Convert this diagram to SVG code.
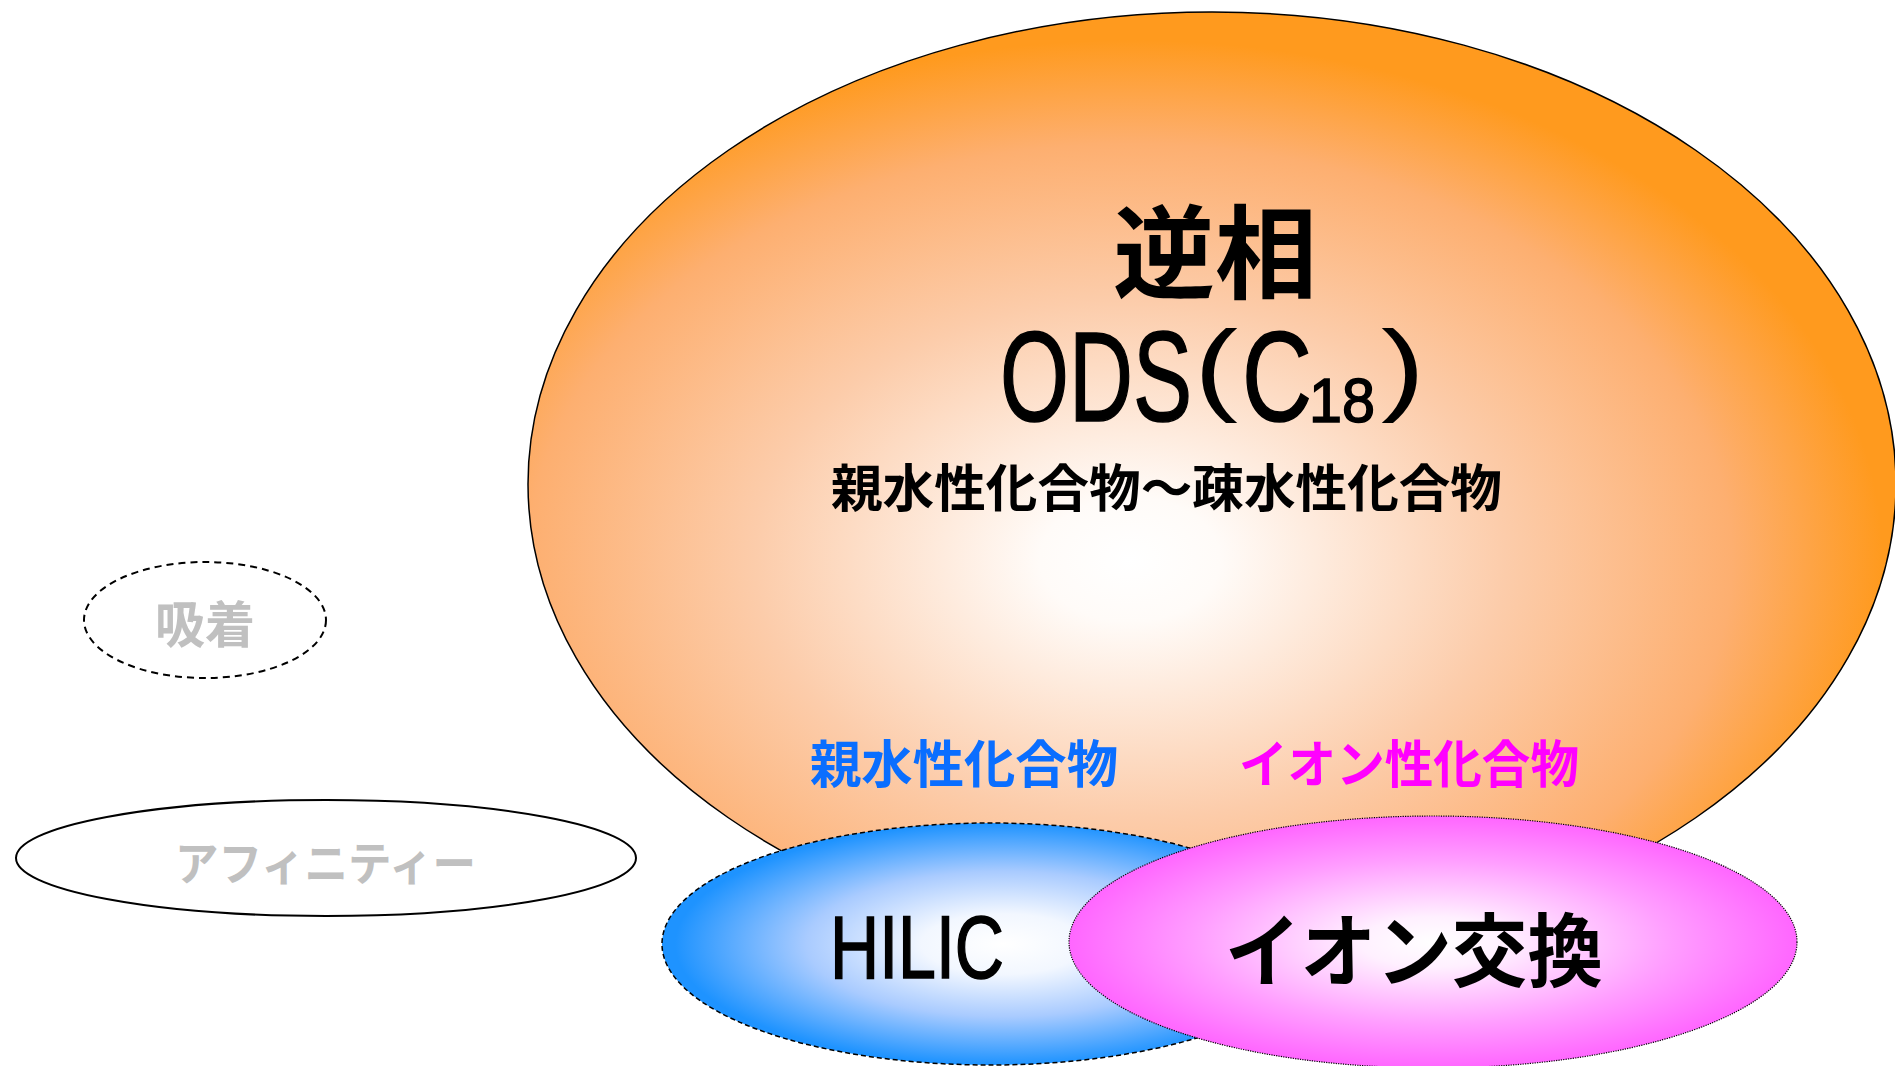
<svg xmlns="http://www.w3.org/2000/svg" width="1895" height="1066" viewBox="0 0 1895 1066">
<defs>
<radialGradient id="gOrange" cx="0.44" cy="0.58" r="0.55">
<stop offset="0" stop-color="#FFFFFF"/>
<stop offset="0.12" stop-color="#FFFBF8"/>
<stop offset="0.5" stop-color="#FCCCAA"/>
<stop offset="0.8" stop-color="#FDAF70"/>
<stop offset="1" stop-color="#FF9A1E"/>
</radialGradient>
<radialGradient id="gBlue" cx="0.52" cy="0.5" r="0.5">
<stop offset="0" stop-color="#FFFFFF"/>
<stop offset="0.25" stop-color="#F2F7FF"/>
<stop offset="0.6" stop-color="#A9CBFF"/>
<stop offset="1" stop-color="#1E93FF"/>
</radialGradient>
<radialGradient id="gPink" cx="0.5" cy="0.5" r="0.5">
<stop offset="0" stop-color="#FFFFFF"/>
<stop offset="0.2" stop-color="#FFF0FF"/>
<stop offset="0.65" stop-color="#FF9EFF"/>
<stop offset="1" stop-color="#FF66FF"/>
</radialGradient>
</defs>
<style>
.jp{font-family:"Noto Sans CJK JP","Noto Sans CJK SC",sans-serif;font-weight:bold;}
.lat{font-family:"Liberation Sans","DejaVu Sans",sans-serif;font-weight:normal;fill:#000;stroke:#000;stroke-width:1.6;}
.par{font-family:"Liberation Sans","DejaVu Sans",sans-serif;font-weight:normal;fill:#000;}
.gray{fill:#C0C0C0;}
.blk{fill:#000000;}
</style>
<g id="connectors"></g>
<g id="node-reverse">
<ellipse cx="1212" cy="484" rx="684" ry="472" fill="url(#gOrange)" stroke="#000" stroke-width="1.5"/>
<text class="jp blk" x="1215" y="291" font-size="102" text-anchor="middle">逆相</text>
<text class="lat" x="1000" y="421" font-size="128" textLength="192" lengthAdjust="spacingAndGlyphs">ODS</text>
<text class="par" x="1194" y="402" font-size="102" textLength="44" lengthAdjust="spacingAndGlyphs">(</text>
<text class="lat" x="1242" y="421" font-size="128" textLength="70" lengthAdjust="spacingAndGlyphs">C</text>
<text class="lat" x="1309" y="422" font-size="63" textLength="66" lengthAdjust="spacingAndGlyphs">18</text>
<text class="par" x="1381" y="402" font-size="102" textLength="44" lengthAdjust="spacingAndGlyphs">)</text>
<text class="jp blk" x="831" y="507" font-size="51" textLength="671" lengthAdjust="spacingAndGlyphs">親水性化合物～疎水性化合物</text>
<text class="jp" x="810" y="783" font-size="51" fill="#0A6EFF" textLength="308" lengthAdjust="spacingAndGlyphs">親水性化合物</text>
<text class="jp" x="1239" y="783" font-size="51" fill="#FF00FF" textLength="340" lengthAdjust="spacingAndGlyphs">イオン性化合物</text>
</g>
<g id="node-adsorption">
<ellipse cx="205" cy="620" rx="121" ry="58" fill="none" stroke="#000" stroke-width="2" stroke-dasharray="7,5"/>
<text class="jp gray" x="205" y="643" font-size="50" text-anchor="middle">吸着</text>
</g>
<g id="node-affinity">
<ellipse cx="326" cy="858" rx="310" ry="58" fill="none" stroke="#000" stroke-width="2"/>
<text class="jp gray" x="175" y="880" font-size="46" textLength="301" lengthAdjust="spacingAndGlyphs">アフィニティー</text>
</g>
<g id="node-hilic">
<ellipse cx="990" cy="944" rx="328" ry="121" fill="url(#gBlue)" stroke="#000" stroke-width="1.5" stroke-dasharray="5,3"/>
<text class="lat" x="830" y="978" font-size="89" textLength="174" lengthAdjust="spacingAndGlyphs">HILIC</text>
</g>
<g id="node-ion">
<ellipse cx="1433" cy="942" rx="364" ry="126" fill="url(#gPink)" stroke="#000" stroke-width="1.2" stroke-dasharray="1.2,1.2"/>
<text class="jp blk" x="1225" y="980" font-size="80" textLength="378" lengthAdjust="spacingAndGlyphs">イオン交換</text>
</g>
</svg>
